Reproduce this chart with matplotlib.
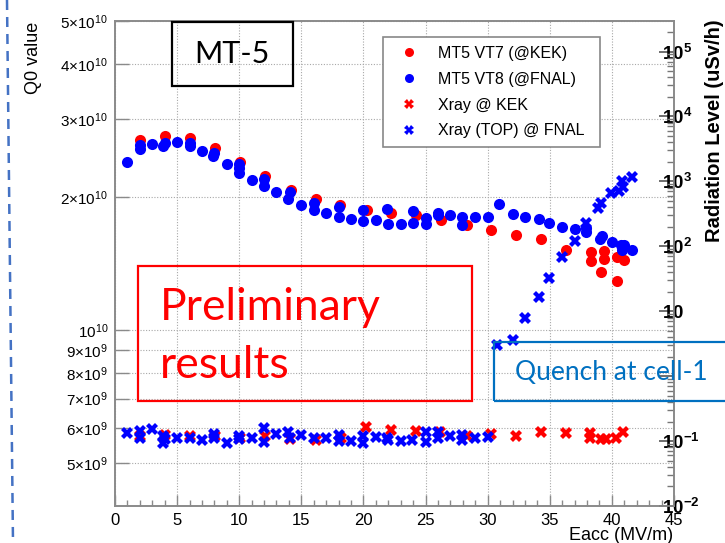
import matplotlib
matplotlib.use('Agg')
import matplotlib.pyplot as plt
from matplotlib.lines import Line2D
from matplotlib.patches import Rectangle
from matplotlib.ticker import NullLocator, LogLocator, NullFormatter

plt.rcParams['font.family'] = ['Liberation Sans', 'DejaVu Sans']
plt.rcParams['mathtext.fontset'] = 'custom'
plt.rcParams['mathtext.rm'] = 'Liberation Sans'
plt.rcParams['mathtext.it'] = 'Liberation Sans:italic'
plt.rcParams['mathtext.bf'] = 'Liberation Sans:bold'

# ---------------- data ----------------
kek_q0_E = [2.0, 4.0, 6.05, 8.05, 10.1, 12.1, 14.15, 16.15, 18.15, 20.25, 22.25, 24.2,
            26.25, 28.3, 30.3, 32.3, 34.3, 36.3, 38.3, 38.3, 39.35, 39.35, 39.15, 40.45,
            41.0, 40.45]
kek_q0 = [2.69e10, 2.75e10, 2.72e10, 2.58e10, 2.40e10, 2.23e10, 2.07e10, 1.98e10, 1.92e10,
          1.87e10, 1.84e10, 1.82e10, 1.77e10, 1.73e10, 1.68e10, 1.64e10, 1.61e10, 1.52e10,
          1.50e10, 1.43e10, 1.51e10, 1.45e10, 1.35e10, 1.46e10, 1.44e10, 1.29e10]

fnal_q0_E = [1.0, 2.0, 2.0, 3.0, 3.9, 4.0, 5.0, 6.0, 6.0, 7.0, 7.9, 8.0, 9.0, 10.0, 10.0,
             10.0, 11.0, 12.0, 12.0, 13.0, 13.9, 14.1, 15.0, 16.0, 16.0, 17.0, 18.0, 18.0,
             19.0, 20.0, 20.0, 21.0, 21.9, 22.0, 23.0, 24.0, 24.0, 25.0, 25.0, 26.0, 26.0,
             27.0, 27.9, 27.9, 29.0, 30.0, 30.9, 32.0, 33.0, 34.1, 34.9, 36.0, 37.0, 37.9,
             37.9, 39.05, 39.2, 40.0, 40.7, 41.0, 40.8, 41.6]
fnal_q0 = [2.40e10, 2.62e10, 2.57e10, 2.63e10, 2.61e10, 2.65e10, 2.66e10, 2.65e10, 2.61e10,
           2.54e10, 2.47e10, 2.52e10, 2.37e10, 2.38e10, 2.33e10, 2.27e10, 2.19e10, 2.20e10,
           2.12e10, 2.05e10, 1.98e10, 2.05e10, 1.92e10, 1.94e10, 1.87e10, 1.84e10, 1.90e10,
           1.80e10, 1.78e10, 1.87e10, 1.76e10, 1.77e10, 1.88e10, 1.74e10, 1.74e10, 1.86e10,
           1.75e10, 1.79e10, 1.74e10, 1.84e10, 1.82e10, 1.82e10, 1.80e10, 1.73e10, 1.80e10,
           1.80e10, 1.93e10, 1.83e10, 1.80e10, 1.78e10, 1.75e10, 1.71e10, 1.69e10, 1.67e10,
           1.70e10, 1.61e10, 1.63e10, 1.58e10, 1.56e10, 1.56e10, 1.52e10, 1.52e10]

kek_xray_E = [2.0, 4.05, 6.0, 8.05, 10.1, 12.1, 14.1, 16.2, 18.2, 20.2, 22.25, 24.2, 26.2,
              28.3, 30.3, 32.3, 34.3, 36.3, 38.2, 38.2, 39.1, 39.5, 40.3, 40.9]
kek_xray = [0.121, 0.124, 0.118, 0.118, 0.112, 0.118, 0.107, 0.105, 0.110, 0.163, 0.148,
            0.144, 0.139, 0.121, 0.128, 0.121, 0.136, 0.133, 0.133, 0.110, 0.107, 0.107,
            0.110, 0.139]

fnal_xray_E = [1.0, 2.0, 2.0, 3.0, 3.9, 3.9, 4.0, 5.0, 6.0, 7.0, 8.0, 8.0, 9.0, 10.0, 10.0,
               11.0, 12.0, 12.0, 13.0, 13.9, 14.1, 15.0, 16.0, 17.0, 18.0, 18.0, 19.0, 20.0,
               20.0, 21.0, 21.9, 22.0, 23.0, 23.9, 25.0, 25.0, 26.0, 26.0, 27.0, 27.9, 27.9,
               29.0, 30.0, 30.75, 32.0, 33.0, 34.1, 34.9, 36.0, 37.0, 37.9, 38.9, 39.1, 39.9,
               40.6, 40.9, 40.8, 41.6]
fnal_xray = [0.131, 0.144, 0.110, 0.153, 0.118, 0.093, 0.107, 0.110, 0.110, 0.105, 0.128,
             0.110, 0.095, 0.118, 0.107, 0.110, 0.157, 0.098, 0.128, 0.136, 0.110, 0.124,
             0.110, 0.110, 0.124, 0.101, 0.101, 0.118, 0.095, 0.114, 0.110, 0.104, 0.101,
             0.105, 0.136, 0.098, 0.139, 0.110, 0.121, 0.124, 0.105, 0.110, 0.114, 3.0, 3.6,
             7.9, 16.6, 32.5, 69.0, 121.0, 232.0, 390.0, 470.0, 662.0, 700.0, 830.0, 1030.0,
             1150.0]

x_ticks = [0, 5, 10, 15, 20, 25, 30, 35, 40, 45]
q0_ticks = [5e9, 6e9, 7e9, 8e9, 9e9, 1e10, 2e10, 3e10, 4e10, 5e10]
q0_tick_labels = ['5×10$^{9}$', '6×10$^{9}$', '7×10$^{9}$', '8×10$^{9}$', '9×10$^{9}$',
                  '10$^{10}$', '2×10$^{10}$', '3×10$^{10}$', '4×10$^{10}$', '5×10$^{10}$']
rad_ticks = [1e-2, 1e-1, 1e0, 1e1, 1e2, 1e3, 1e4, 1e5]
rad_tick_labels = [r'$\mathbf{10^{-2}}$', r'$\mathbf{10^{-1}}$', '', r'$\mathbf{10}$',
                   r'$\mathbf{10^{2}}$', r'$\mathbf{10^{3}}$', r'$\mathbf{10^{4}}$',
                   r'$\mathbf{10^{5}}$']
legend_labels = ['MT5 VT7 (@KEK)', 'MT5 VT8 (@FNAL)', 'Xray @ KEK', 'Xray (TOP) @ FNAL']

# ---------------- figure ----------------
W, H = 725, 543
fig = plt.figure(figsize=(W / 100, H / 100), dpi=100)


def fx(x):
    return x / W


def fy(y):
    return 1 - y / H


SP = '#8a8a8a'
ax = fig.add_axes([fx(115), fy(506), (674 - 115) / W, (506 - 21) / H])
ax.set_xlim(0, 45)
ax.set_yscale('log')
ax.set_ylim(4e9, 5e10)
ax.set_xticks(x_ticks)
ax.set_xticklabels([str(t) for t in x_ticks])
ax.set_xticks(range(0, 46), minor=True)
ax.set_yticks(q0_ticks)
ax.set_yticklabels(q0_tick_labels)
ax.yaxis.set_minor_locator(NullLocator())
ax.tick_params(axis='x', which='major', direction='in', length=8, width=1, pad=5,
               labelsize=12, color=SP)
ax.tick_params(axis='x', which='minor', direction='in', length=4, width=1, color=SP)
ax.tick_params(axis='y', which='major', direction='in', length=10, width=1, pad=5,
               labelsize=11, color=SP)
ax.grid(True, which='major', linestyle=(0, (1, 1.5)), color='#a8a8a8', linewidth=0.8)
for s in ax.spines.values():
    s.set_color(SP)
    s.set_linewidth(1.2)

ax2 = ax.twinx()
ax2.set_yscale('log')
ax2.set_ylim(1e-2, 10 ** 5.47)
ax2.set_yticks(rad_ticks)
ax2.set_yticklabels(rad_tick_labels)
ax2.yaxis.set_minor_locator(LogLocator(base=10, subs=[2, 3, 4, 5, 6, 7, 8, 9], numticks=20))
ax2.yaxis.set_minor_formatter(NullFormatter())
ax2.tick_params(axis='y', which='major', direction='in', length=11, width=1.2, pad=-9,
                labelsize=13.5, color='#555555')
ax2.tick_params(axis='y', which='minor', direction='in', length=5, width=1, color='#777777')
for s in ax2.spines.values():
    s.set_color(SP)
    s.set_linewidth(1.2)

ax.plot(kek_q0_E, kek_q0, 'o', color='#ff0000', ms=8, mew=0, zorder=3)
ax.plot(fnal_q0_E, fnal_q0, 'o', color='#0000ff', ms=8, mew=0, zorder=4)
ax2.plot(kek_xray_E, kek_xray, 'X', color='#ff0000', ms=8.5, mew=0, zorder=3)
ax2.plot(fnal_xray_E, fnal_xray, 'X', color='#0000ff', ms=8.5, mew=0, zorder=4)

handles = [Line2D([], [], ls='none', marker='o', color='#ff0000', ms=6.5, mew=0),
           Line2D([], [], ls='none', marker='o', color='#0000ff', ms=6.5, mew=0),
           Line2D([], [], ls='none', marker='X', color='#ff0000', ms=6.5, mew=0),
           Line2D([], [], ls='none', marker='X', color='#0000ff', ms=6.5, mew=0)]
x0 = (383 - 115) / 559
x1 = (600 - 115) / 559
ytop = (506 - 37) / 485
leg = ax2.legend(handles, legend_labels, loc='upper left',
                 bbox_to_anchor=(x0, ytop - 0.3, x1 - x0, 0.3), mode='expand',
                 borderaxespad=0, fontsize=11.5, frameon=True, fancybox=False,
                 edgecolor='#888888', framealpha=1, borderpad=0.55, handlelength=2.2,
                 handletextpad=0.7, labelspacing=0.68)
leg.get_frame().set_linewidth(1.2)
leg.set_zorder(10)

# ---------------- labels ----------------
fig.text(fx(33), fy(22), 'Q0 value', rotation=90, ha='center', va='top', fontsize=13)
fig.text(fx(673), fy(527), 'Eacc (MV/m)', ha='right', va='top', fontsize=13)
fig.text(fx(714), fy(131), 'Radiation Level (uSv/h)', rotation=90, ha='center',
         va='center', fontsize=14.5, fontweight='bold')

# ---------------- annotations ----------------
def rect(x0p, y0p, x1p, y1p, color):
    r = Rectangle((fx(x0p), fy(y1p)), (x1p - x0p) / W, (y1p - y0p) / H,
                  transform=fig.transFigure, fill=False, edgecolor=color, linewidth=1.6,
                  zorder=20)
    fig.add_artist(r)

rect(172, 22, 293, 86, 'black')
fig.text(fx(232), fy(54), 'MT-5', ha='center', va='center', fontsize=22, family='Lato')

rect(138, 266, 472, 401, '#ff0000')
fig.text(fx(160), fy(320), 'Preliminary', ha='left', va='baseline', fontsize=32,
         family='Lato', color='#ff0000')
fig.text(fx(160), fy(378), 'results', ha='left', va='baseline', fontsize=32,
         family='Lato', color='#ff0000')

rect(494, 342, 760, 401, '#0070c0')
fig.text(fx(515), fy(373), 'Quench at cell-1', ha='left', va='center', fontsize=19,
         family='Lato', color='#0070c0')

fig.add_artist(Line2D([fx(7), fx(13)], [fy(0), fy(543)], transform=fig.transFigure,
                      color='#4472c4', lw=1.8, dashes=(4, 2.8)))

fig.savefig('out.png', dpi=100)
